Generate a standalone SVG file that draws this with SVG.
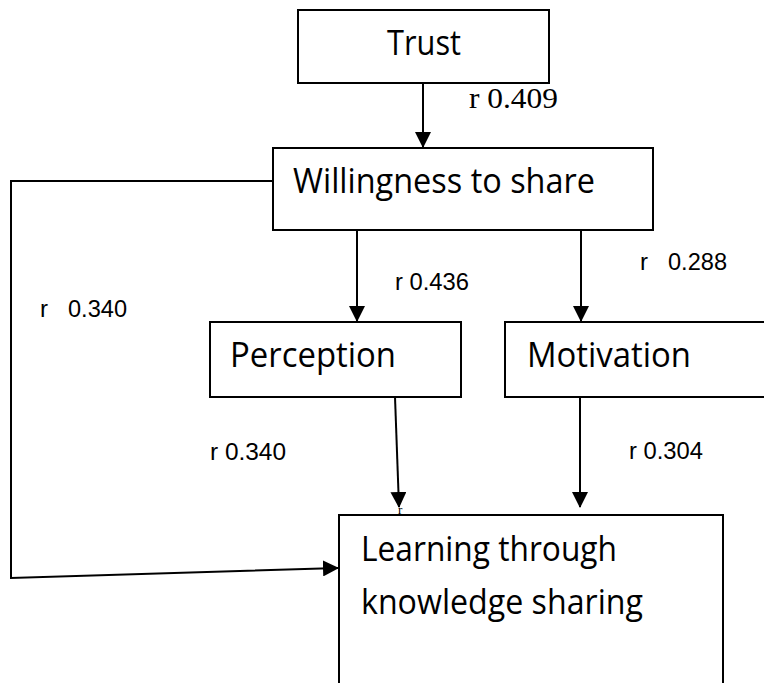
<svg xmlns="http://www.w3.org/2000/svg" width="764" height="683" viewBox="0 0 764 683">
<style>
.box{fill:#fff;stroke:#000;stroke-width:2}
.node{font-family:"Open Sans","Liberation Sans",sans-serif;font-size:35px;fill:#000}
.lbl{font-family:"Liberation Sans",Arial,sans-serif;font-size:24px;fill:#000}
.ser{font-family:"Liberation Serif","Times New Roman",serif;fill:#000}
.con{fill:none;stroke:#000;stroke-width:2}
</style>
<defs>
<marker id="ah" viewBox="0 0 16 16" refX="15" refY="8" markerWidth="16" markerHeight="16" markerUnits="userSpaceOnUse" orient="auto">
<path d="M0,0 L16,8 L0,16 Z" fill="#000"/>
</marker>
</defs>
<rect width="764" height="683" fill="#fff"/>
<g id="trust">
<rect class="box" x="298" y="10" width="251" height="73"/>
<text class="node" x="387" y="55" textLength="74" lengthAdjust="spacingAndGlyphs">Trust</text>
</g>
<g id="willingness">
<rect class="box" x="273" y="148" width="380" height="82"/>
<text class="node" x="293" y="193" textLength="302" lengthAdjust="spacingAndGlyphs">Willingness to share</text>
</g>
<g id="perception">
<rect class="box" x="210" y="322" width="251" height="75"/>
<text class="node" x="230" y="367" textLength="166" lengthAdjust="spacingAndGlyphs">Perception</text>
</g>
<g id="motivation">
<rect class="box" x="505" y="322" width="264" height="75"/>
<text class="node" x="527" y="367" textLength="164" lengthAdjust="spacingAndGlyphs">Motivation</text>
</g>
<g id="learning">
<rect class="box" x="339" y="515" width="384" height="190"/>
<text class="node" x="361" y="561" textLength="256" lengthAdjust="spacingAndGlyphs">Learning through</text>
<text class="node" x="361" y="614" textLength="282" lengthAdjust="spacingAndGlyphs">knowledge sharing</text>
</g>
<g id="connectors">
<line class="con" x1="423" y1="83" x2="423" y2="147" marker-end="url(#ah)"/>
<line class="con" x1="357" y1="230" x2="357" y2="321" marker-end="url(#ah)"/>
<line class="con" x1="581" y1="230" x2="581" y2="321" marker-end="url(#ah)"/>
<line class="con" x1="395" y1="397" x2="399" y2="507" marker-end="url(#ah)"/>
<line class="con" x1="580" y1="397" x2="580" y2="507" marker-end="url(#ah)"/>
<polyline class="con" points="273,181 11,181 11,578 338,568" marker-end="url(#ah)"/>
</g>
<g id="labels">
<text class="ser" x="469" y="108" font-size="30" textLength="89" lengthAdjust="spacingAndGlyphs">r 0.409</text>
<text class="lbl" x="395" y="290" textLength="74" lengthAdjust="spacingAndGlyphs">r 0.436</text>
<text class="lbl" x="640" y="270">r</text>
<text class="lbl" x="668" y="270" textLength="59" lengthAdjust="spacingAndGlyphs">0.288</text>
<text class="lbl" x="40" y="317">r</text>
<text class="lbl" x="68" y="317" textLength="59" lengthAdjust="spacingAndGlyphs">0.340</text>
<text class="lbl" x="210" y="460" textLength="76" lengthAdjust="spacingAndGlyphs">r 0.340</text>
<text class="lbl" x="629" y="459" textLength="74" lengthAdjust="spacingAndGlyphs">r 0.304</text>
<text class="ser" x="398" y="514" font-size="13">r</text>
</g>
</svg>
